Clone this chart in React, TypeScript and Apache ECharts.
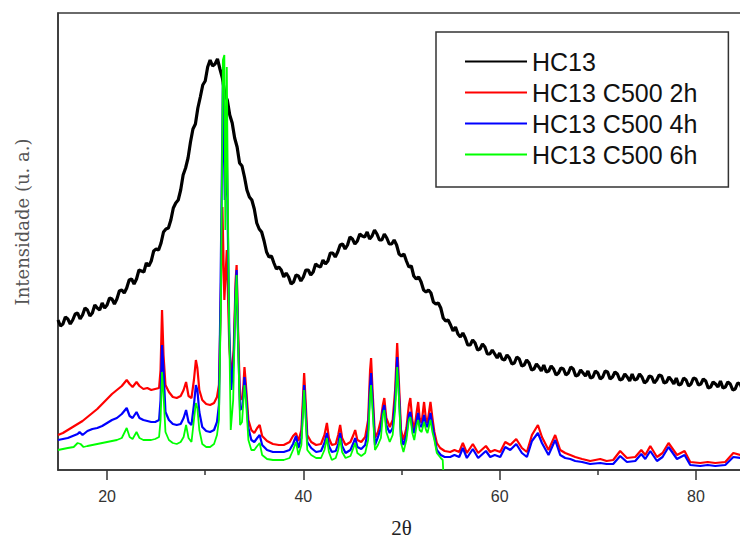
import React, { useEffect, useRef } from "react";
import * as echarts from "echarts";

const SERIES_NAMES = ["HC13", "HC13 C500 2h", "HC13 C500 4h", "HC13 C500 6h"];
const SERIES_COLORS = ["#000000", "#ff0000", "#0000ff", "#00ff00"];
const X_MIN = 15;
const X_MAX = 85;
const Y_MAX = 457;
const MAJOR_TICKS = [20, 40, 60, 80];
const MINOR_TICKS = [30, 50, 70];

const HC13: [number, number][] = [
  [15, 150], [15.25, 144], [15.5, 146], [15.75, 153], [16, 151], [16.25, 146], [16.5, 150], [16.75, 156], [17, 157], [17.25, 151],
  [17.5, 155], [17.75, 162], [18, 160], [18.25, 154], [18.5, 157], [18.75, 165], [19, 162], [19.25, 160], [19.5, 167], [19.75, 162],
  [20, 165], [20.25, 172], [20.5, 171], [20.75, 166], [21, 171], [21.25, 179], [21.5, 180], [21.75, 177], [22, 182], [22.25, 190],
  [22.5, 191], [22.75, 186], [23, 191], [23.25, 200], [23.5, 199], [23.75, 198], [24, 207], [24.25, 204], [24.5, 209], [24.75, 219],
  [25, 221], [25.25, 220], [25.5, 227], [25.75, 238], [26, 241], [26.25, 242], [26.5, 250], [26.75, 262], [27, 267], [27.25, 270],
  [27.5, 280], [27.75, 295], [28, 302], [28.25, 312], [28.5, 328], [28.75, 341], [29, 346], [29.25, 362], [29.5, 373], [29.75, 385],
  [30, 389], [30.25, 403], [30.5, 410], [30.75, 404], [31, 406], [31.25, 411], [31.5, 401], [31.75, 392], [32, 376], [32.25, 370],
  [32.5, 355], [32.75, 347], [33, 332], [33.25, 323], [33.5, 307], [33.75, 304], [34, 293], [34.25, 280], [34.5, 273], [34.75, 270],
  [35, 261], [35.25, 247], [35.5, 241], [35.75, 238], [36, 229], [36.25, 218], [36.5, 213], [36.75, 214], [37, 207], [37.25, 201],
  [37.5, 203], [37.75, 200], [38, 193], [38.25, 197], [38.5, 193], [38.75, 186], [39, 188], [39.25, 195], [39.5, 194], [39.75, 189],
  [40, 193], [40.25, 200], [40.5, 200], [40.75, 195], [41, 198], [41.25, 206], [41.5, 204], [41.75, 203], [42, 210], [42.25, 206],
  [42.5, 209], [42.75, 217], [43, 217], [43.25, 213], [43.5, 218], [43.75, 225], [44, 226], [44.25, 221], [44.5, 225], [44.75, 233],
  [45, 231], [45.25, 226], [45.5, 229], [45.75, 236], [46, 234], [46.25, 233], [46.5, 238], [46.75, 231], [47, 234], [47.25, 240],
  [47.5, 236], [47.75, 230], [48, 230], [48.25, 236], [48.5, 232], [48.75, 226], [49, 226], [49.25, 230], [49.5, 225], [49.75, 216],
  [50, 214], [50.25, 216], [50.5, 209], [50.75, 203], [51, 204], [51.25, 194], [51.5, 191], [51.75, 193], [52, 188], [52.25, 180],
  [52.5, 178], [52.75, 180], [53, 177], [53.25, 168], [53.5, 166], [53.75, 167], [54, 162], [54.25, 152], [54.5, 149], [54.75, 150],
  [55, 145], [55.25, 139], [55.5, 143], [55.75, 136], [56, 133], [56.25, 137], [56.5, 132], [56.75, 125], [57, 125], [57.25, 130],
  [57.5, 127], [57.75, 120], [58, 121], [58.25, 126], [58.5, 123], [58.75, 116], [59, 116], [59.25, 120], [59.5, 116], [59.75, 112],
  [60, 117], [60.25, 111], [60.5, 110], [60.75, 115], [61, 112], [61.25, 106], [61.5, 107], [61.75, 113], [62, 111], [62.25, 104],
  [62.5, 105], [62.75, 110], [63, 107], [63.25, 100], [63.5, 101], [63.75, 106], [64, 103], [64.25, 99], [64.5, 105], [64.75, 98],
  [65, 99], [65.25, 104], [65.5, 101], [65.75, 95], [66, 97], [66.25, 102], [66.5, 101], [66.75, 95], [67, 97], [67.25, 103],
  [67.5, 101], [67.75, 94], [68, 95], [68.25, 100], [68.5, 97], [68.75, 94], [69, 99], [69.25, 92], [69.5, 93], [69.75, 99],
  [70, 97], [70.25, 91], [70.5, 93], [70.75, 99], [71, 98], [71.25, 91], [71.5, 93], [71.75, 98], [72, 96], [72.25, 90],
  [72.5, 91], [72.75, 96], [73, 93], [73.25, 89], [73.5, 96], [73.75, 90], [74, 91], [74.25, 96], [74.5, 93], [74.75, 87],
  [75, 89], [75.25, 94], [75.5, 93], [75.75, 87], [76, 90], [76.25, 95], [76.5, 94], [76.75, 87], [77, 88], [77.25, 93],
  [77.5, 90], [77.75, 86], [78, 92], [78.25, 85], [78.5, 86], [78.75, 92], [79, 90], [79.25, 84], [79.5, 86], [79.75, 92],
  [80, 91], [80.25, 85], [80.5, 86], [80.75, 91], [81, 89], [81.25, 82], [81.5, 83], [81.75, 88], [82, 86], [82.25, 83],
  [82.5, 89], [82.75, 82], [83, 83], [83.25, 88], [83.5, 86], [83.75, 80], [84, 81], [84.25, 87], [84.5, 86], [84.75, 80], [85, 83],
];

const C500_2H: [number, number][] = [
  [15, 35], [15.5, 37], [16, 40], [16.5, 43], [17, 46], [17.5, 49], [18, 53], [18.5, 57], [19, 61], [19.5, 66],
  [20, 71], [20.5, 76], [21, 80], [21.5, 84], [22, 90], [22.3, 86], [22.6, 83], [23, 88], [23.3, 84], [23.7, 81],
  [24.1, 82], [24.5, 80], [24.9, 81], [25.3, 82], [25.45, 100], [25.6, 160], [25.75, 115], [25.95, 85], [26.3, 78],
  [26.7, 73], [27.1, 72], [27.5, 74], [27.8, 80], [28.05, 88], [28.3, 74], [28.6, 72], [28.85, 90], [29.05, 110],
  [29.2, 102], [29.4, 80], [29.7, 70], [30.1, 66], [30.5, 65], [30.9, 67], [31.2, 73], [31.4, 85], [31.55, 150],
  [31.75, 263], [31.95, 170], [32.2, 220], [32.45, 125], [32.65, 92], [32.9, 120], [33.1, 190], [33.2, 205],
  [33.35, 140], [33.55, 70], [33.75, 72], [33.9, 85], [34, 103], [34.15, 85], [34.4, 50], [34.7, 40], [35, 37],
  [35.3, 42], [35.55, 45], [35.8, 34], [36.3, 29], [36.9, 26], [37.5, 25], [38, 25], [38.6, 28], [38.95, 34],
  [39.25, 37], [39.5, 29], [39.8, 40], [39.95, 70], [40.08, 97], [40.2, 75], [40.4, 35], [40.8, 28], [41.3, 25],
  [41.8, 26], [42.15, 35], [42.4, 47], [42.6, 32], [42.9, 25], [43.3, 26], [43.55, 35], [43.75, 45], [43.95, 32],
  [44.3, 25], [44.8, 28], [45.1, 35], [45.28, 40], [45.5, 30], [45.9, 28], [46.3, 33], [46.6, 50], [46.8, 100],
  [46.9, 112], [47.05, 80], [47.3, 32], [47.6, 38], [47.9, 50], [48.1, 65], [48.25, 72], [48.45, 52], [48.8, 43],
  [49.1, 50], [49.35, 80], [49.56, 127], [49.75, 85], [49.95, 40], [50.2, 30], [50.5, 42], [50.75, 65], [50.9, 72],
  [51.1, 50], [51.3, 40], [51.55, 58], [51.7, 68], [51.85, 52], [52.05, 47], [52.3, 68], [52.5, 50], [52.65, 47],
  [52.95, 68], [53.15, 52], [53.35, 38], [53.6, 27], [53.94, 22], [54.4, 19], [54.96, 18], [55.4, 20], [55.88, 18], [56.25, 27], [56.66, 17],
  [57.27, 26], [57.81, 17], [58.6, 24], [59.04, 18], [59.5, 20], [60.06, 18], [60.57, 28], [61.08, 25], [61.69, 31], [62.27, 22],
  [62.78, 18], [63.29, 35], [63.9, 45], [64.31, 33], [64.98, 20], [65.66, 35], [66.17, 20], [66.68, 17], [67.2, 15], [67.7, 13],
  [68.4, 11], [69.23, 9], [70.25, 11], [70.9, 9], [71.57, 10], [72.28, 19], [72.97, 12], [73.82, 13], [74.43, 20], [74.84, 15], [75.35, 24],
  [76.03, 13], [76.6, 17], [77.21, 27], [78.07, 15], [78.84, 19], [79.42, 8], [80.44, 7], [81.2, 8], [81.97, 7], [82.99, 8], [83.81, 17],
  [84.52, 15], [85.03, 15],
];

const C500_4H: [number, number][] = [
  [15, 30], [16, 32], [17, 36], [17.2, 38], [17.5, 35], [18, 39], [18.5, 41], [19, 42], [19.5, 44], [20, 47],
  [20.5, 50], [21, 52], [21.5, 56], [22, 62], [22.3, 54], [22.6, 52], [23, 58], [23.3, 52], [23.7, 50], [24.1, 49],
  [24.5, 48], [24.9, 48], [25.3, 50], [25.45, 70], [25.6, 125], [25.75, 100], [25.95, 58], [26.3, 50], [26.7, 46],
  [27.1, 45], [27.5, 46], [27.8, 52], [28.05, 60], [28.3, 48], [28.6, 45], [28.85, 65], [29.05, 85], [29.2, 80],
  [29.4, 58], [29.7, 43], [30.1, 39], [30.5, 38], [30.9, 40], [31.2, 48], [31.4, 65], [31.55, 170], [31.8, 387],
  [32, 270], [32.2, 312], [32.45, 140], [32.65, 80], [32.9, 110], [33.1, 180], [33.2, 200], [33.35, 130], [33.55, 60],
  [33.75, 62], [33.9, 75], [34, 93], [34.15, 77], [34.4, 42], [34.7, 30], [35, 28], [35.3, 32], [35.55, 35], [35.8, 25],
  [36.3, 20], [36.9, 18], [37.5, 18], [38, 18], [38.6, 20], [38.95, 26], [39.25, 34], [39.5, 22], [39.8, 32], [39.95, 60],
  [40.08, 85], [40.2, 65], [40.4, 28], [40.8, 22], [41.3, 18], [41.8, 19], [42.15, 27], [42.4, 37], [42.6, 24], [42.9, 18],
  [43.3, 19], [43.55, 26], [43.75, 37], [43.95, 24], [44.3, 17], [44.8, 20], [45.1, 27], [45.28, 32], [45.5, 23],
  [45.9, 21], [46.3, 25], [46.6, 40], [46.8, 85], [46.9, 97], [47.05, 70], [47.3, 25], [47.6, 33], [47.9, 42], [48.1, 60],
  [48.25, 65], [48.45, 45], [48.8, 37], [49.1, 42], [49.35, 70], [49.56, 113], [49.75, 75], [49.95, 33], [50.2, 25],
  [50.5, 35], [50.75, 55], [50.9, 58], [51.1, 42], [51.3, 37], [51.55, 50], [51.7, 57], [51.85, 45], [52.05, 43],
  [52.3, 55], [52.5, 45], [52.65, 43], [52.95, 57], [53.15, 45], [53.35, 33], [53.6, 20], [54, 15], [54.4, 13], [54.96, 13],
  [55.4, 15], [55.88, 13], [56.25, 22], [56.66, 12], [57.27, 21], [57.81, 12], [58.6, 19], [59.04, 13], [59.5, 15], [60.06, 13], [60.57, 23],
  [61.08, 20], [61.69, 26], [62.27, 17], [62.78, 13], [63.29, 29], [63.9, 37], [64.31, 27], [64.98, 15], [65.66, 30],
  [66.17, 15], [66.68, 12], [67.2, 11], [67.7, 9], [68.4, 8], [69.23, 6], [70.25, 7], [70.9, 6], [71.57, 6], [72.28, 14], [72.97, 8], [73.82, 9],
  [74.43, 16], [74.84, 11], [75.35, 19], [76.03, 9], [76.6, 13], [77.21, 23], [78.07, 11], [78.84, 15], [79.42, 5], [80.44, 4],
  [81.2, 5], [81.97, 4], [82.99, 5], [83.81, 13], [84.52, 12], [85.03, 12],
];

const C500_6H: [number, number][] = [
  [15, 20], [16, 22], [16.6, 23], [17, 27], [17.3, 26], [17.6, 23], [18, 24], [18.5, 25], [19, 26], [19.5, 27],
  [20, 28], [20.5, 29], [21, 30], [21.5, 32], [22, 42], [22.3, 33], [22.6, 31], [23, 38], [23.3, 32], [23.7, 30],
  [24.1, 30], [24.5, 30], [24.9, 31], [25.3, 33], [25.45, 50], [25.6, 98], [25.75, 75], [25.95, 38], [26.3, 30],
  [26.7, 27], [27.1, 26], [27.5, 28], [27.8, 33], [28.05, 45], [28.3, 32], [28.6, 28], [28.85, 50], [29.05, 67],
  [29.2, 62], [29.4, 40], [29.7, 26], [30.1, 23], [30.5, 23], [30.9, 26], [31.2, 35], [31.4, 50], [31.6, 170],
  [31.8, 410], [31.95, 415], [32.05, 240], [32.2, 403], [32.4, 170], [32.6, 40], [32.85, 70], [33.05, 160], [33.2, 195],
  [33.35, 130], [33.55, 45], [33.75, 48], [33.9, 70], [34, 85], [34.15, 70], [34.4, 30], [34.7, 20], [35, 20], [35.3, 24],
  [35.55, 27], [35.8, 15], [36.3, 11], [36.9, 10], [37.5, 10], [38, 10], [38.6, 12], [38.95, 20], [39.25, 28], [39.5, 15],
  [39.8, 25], [39.95, 55], [40.08, 80], [40.2, 58], [40.4, 20], [40.8, 15], [41.3, 12], [41.8, 12], [42.15, 20],
  [42.4, 32], [42.6, 18], [42.9, 10], [43.3, 12], [43.55, 20], [43.75, 32], [43.95, 18], [44.3, 12], [44.8, 14],
  [45.1, 22], [45.28, 27], [45.5, 17], [45.9, 14], [46.3, 17], [46.6, 30], [46.8, 75], [46.9, 85], [47.05, 60], [47.3, 20],
  [47.6, 25], [47.9, 32], [48.1, 55], [48.25, 60], [48.45, 38], [48.8, 28], [49.1, 35], [49.35, 60], [49.56, 103],
  [49.75, 70], [49.95, 27], [50.2, 18], [50.5, 30], [50.75, 50], [50.9, 53], [51.1, 37], [51.3, 30], [51.55, 45],
  [51.7, 50], [51.85, 40], [52.05, 38], [52.3, 48], [52.5, 40], [52.65, 37], [52.95, 50], [53.15, 38], [53.35, 30],
  [53.6, 17], [54, 12], [54.2, 10], [54.25, 0],
];

const SERIES_DATA = [HC13, C500_2H, C500_4H, C500_6H];
const SERIES_WIDTHS = [3.2, 2.2, 2.2, 1.8];

export default function App() {
  const ref = useRef<HTMLDivElement>(null);
  useEffect(() => {
    const chart = echarts.init(ref.current!, null, { renderer: "svg" });
    const axisColor = "#333333";
    chart.setOption({
      animation: false,
      backgroundColor: "#ffffff",
      grid: {
        left: 58,
        top: 13,
        width: 687,
        height: 457,
        show: true,
        borderColor: "#3a3a3a",
        borderWidth: 1.5,
        backgroundColor: "transparent",
        containLabel: false,
        outerBoundsMode: "none",
      },
      xAxis: [
        {
          type: "value",
          min: X_MIN,
          max: X_MAX,
          position: "bottom",
          axisLine: { show: true, onZero: false, lineStyle: { color: axisColor, width: 1.5 } },
          axisTick: { show: true, customValues: MAJOR_TICKS, length: 10, lineStyle: { color: axisColor, width: 1.5 } },
          axisLabel: {
            show: true,
            customValues: MAJOR_TICKS,
            margin: 18,
            fontSize: 16,
            fontFamily: "Liberation Sans",
            color: "#333333",
          },
          splitLine: { show: false },
          name: "2θ",
          nameLocation: "middle",
          nameGap: 47,
          nameTextStyle: { fontFamily: "Liberation Serif", fontSize: 21, color: "#222222" },
        },
        {
          type: "value",
          min: X_MIN,
          max: X_MAX,
          position: "bottom",
          offset: 0,
          axisLine: { show: false, onZero: false },
          axisTick: { show: true, customValues: MINOR_TICKS, length: 5, lineStyle: { color: axisColor, width: 1.5 } },
          axisLabel: { show: false },
          splitLine: { show: false },
        },
      ],
      yAxis: {
        type: "value",
        min: 0,
        max: Y_MAX,
        axisLine: { show: true, lineStyle: { color: axisColor, width: 1.5 } },
        axisTick: { show: false },
        axisLabel: { show: false },
        splitLine: { show: false },
      },
      legend: {
        show: true,
        orient: "vertical",
        left: 436,
        top: 32,
        padding: [17, 31, 20, 29],
        itemGap: 6,
        itemWidth: 62,
        itemHeight: 2,
        icon: "rect",
        borderColor: "#333333",
        borderWidth: 1.5,
        backgroundColor: "#ffffff",
        selectedMode: false,
        textStyle: { fontFamily: "Liberation Sans", fontSize: 25, lineHeight: 25, color: "#111111" },
        data: SERIES_NAMES,
      },
      graphic: [
        {
          type: "text",
          x: 22,
          y: 222,
          rotation: Math.PI / 2,
          style: {
            text: "Intensidade (u. a.)",
            fill: "#555555",
            font: '18px "DejaVu Serif"',
            textAlign: "center",
            textVerticalAlign: "middle",
            align: "center",
            verticalAlign: "middle",
          },
        },
      ],
      series: SERIES_NAMES.map((name, i) => ({
        name,
        type: "line",
        xAxisIndex: 0,
        yAxisIndex: 0,
        data: SERIES_DATA[i],
        showSymbol: false,
        symbol: "none",
        color: SERIES_COLORS[i],
        lineStyle: { color: SERIES_COLORS[i], width: SERIES_WIDTHS[i] },
        z: 2 + i,
      })),
    });
    return () => chart.dispose();
  }, []);
  return (
    <div
      ref={ref}
      style={{ position: "absolute", left: 0, top: 0, width: 740, height: 540, background: "#fff" }}
    />
  );
}
